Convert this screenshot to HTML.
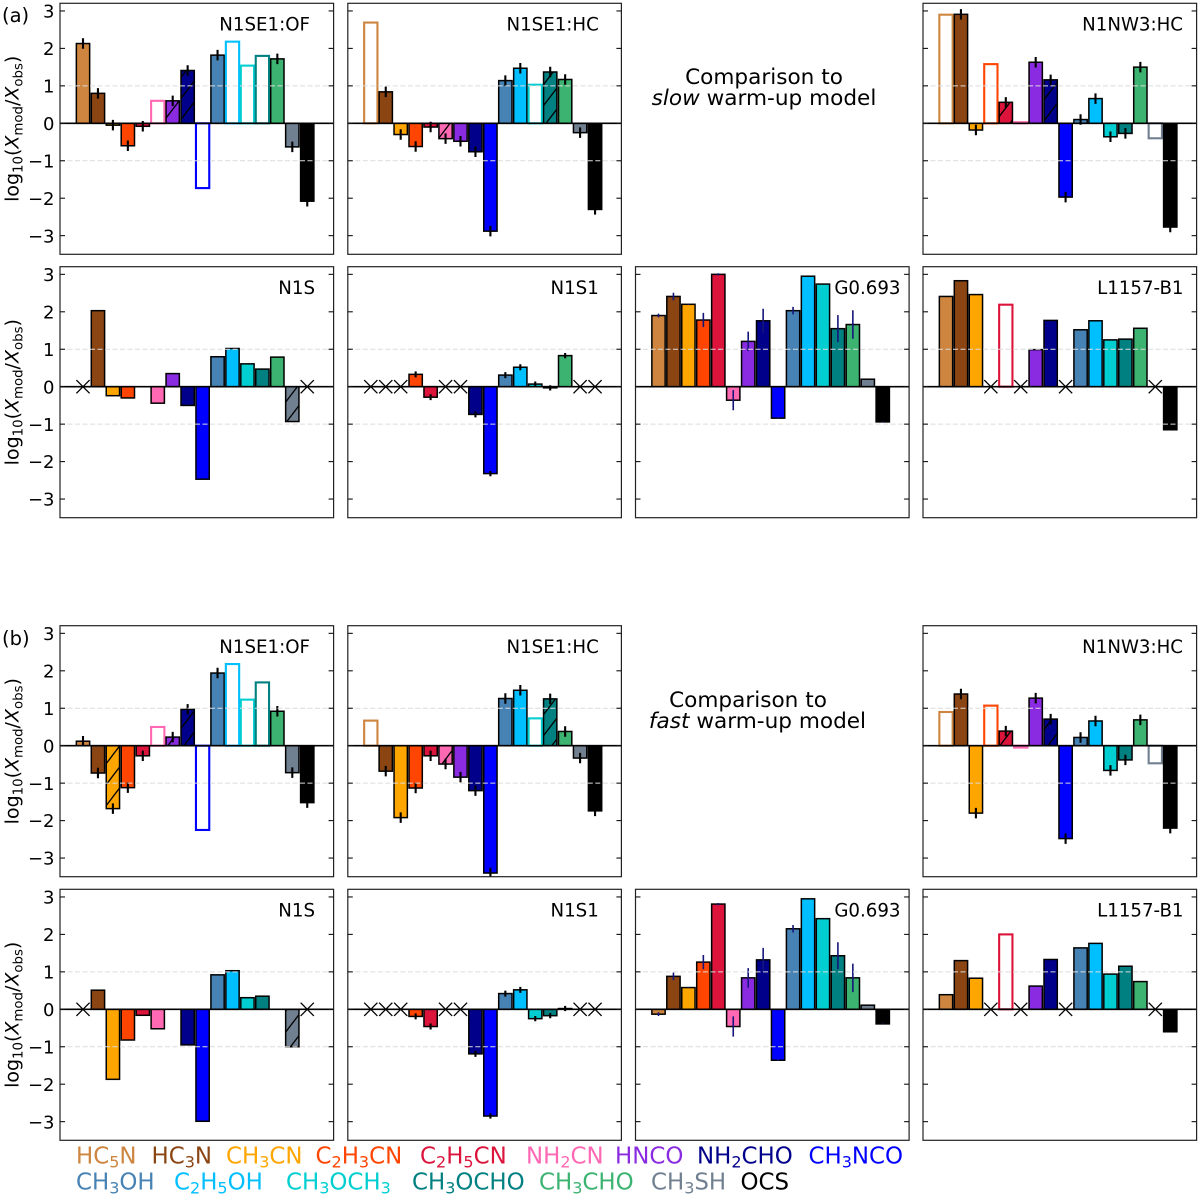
<!DOCTYPE html>
<html lang="en">
<head>
<meta charset="utf-8">
<title>Comparison to warm-up models</title>
<style>
  html, body { margin: 0; padding: 0; background: #fff; }
  body { width: 1200px; height: 1196px; overflow: hidden; }
  svg { display: block; font-family: "DejaVu Sans", "Liberation Sans", sans-serif; filter: blur(0.35px); }
  .tick { font-size: 18px; fill: #000; }
  .title { font-size: 18.2px; fill: #000; }
  .note { font-size: 21.6px; fill: #000; }
  .ylab { font-size: 19px; fill: #000; }
  .legend { font-size: 22.9px; }
</style>
</head>
<body>
<svg id="chart" xmlns="http://www.w3.org/2000/svg" width="1200" height="1196" viewBox="0 0 1200 1196">
  <defs>
    <pattern id="hatch" patternUnits="userSpaceOnUse" width="16" height="21">
      <path d="M-2 23.6 L18 -2.6 M-2 2.6 L2 -2.6 M14 23.6 L18 18.4" stroke="#000" stroke-width="1.3" fill="none"/>
    </pattern>
  </defs>
  <rect width="1200" height="1196" fill="#fff"/>

  <text x="2" y="22" font-size="19.5" fill="#000">(a)</text>
  <text x="2" y="645" font-size="19.5" fill="#000">(b)</text>

  <g class="note" text-anchor="middle">
    <text x="764" y="84">Comparison to</text>
    <text x="764" y="105"><tspan font-style="italic">slow</tspan> warm-up model</text>
  </g>
  <g class="note" text-anchor="middle">
    <text x="748" y="707">Comparison to</text>
    <text x="757.5" y="728"><tspan font-style="italic">fast</tspan> warm-up model</text>
  </g>

  <g id="panels"></g>

  <g class="legend">
    <text x="76" y="1163.3" fill="#CD853F">HC<tspan font-size="70%" dy="4">5</tspan><tspan dy="-4">N</tspan></text>
    <text x="151.5" y="1163.3" fill="#8B4513">HC<tspan font-size="70%" dy="4">3</tspan><tspan dy="-4">N</tspan></text>
    <text x="226" y="1163.3" fill="#FFA500">CH<tspan font-size="70%" dy="4">3</tspan><tspan dy="-4">CN</tspan></text>
    <text x="315.5" y="1163.3" fill="#FF4500">C<tspan font-size="70%" dy="4">2</tspan><tspan dy="-4">H</tspan><tspan font-size="70%" dy="4">3</tspan><tspan dy="-4">CN</tspan></text>
    <text x="420" y="1163.3" fill="#DC143C">C<tspan font-size="70%" dy="4">2</tspan><tspan dy="-4">H</tspan><tspan font-size="70%" dy="4">5</tspan><tspan dy="-4">CN</tspan></text>
    <text x="526" y="1163.3" fill="#FF69B4">NH<tspan font-size="70%" dy="4">2</tspan><tspan dy="-4">CN</tspan></text>
    <text x="615" y="1163.3" fill="#8A2BE2">HNCO</text>
    <text x="697" y="1163.3" fill="#00008B">NH<tspan font-size="70%" dy="4">2</tspan><tspan dy="-4">CHO</tspan></text>
    <text x="808.5" y="1163.3" fill="#0000FF">CH<tspan font-size="70%" dy="4">3</tspan><tspan dy="-4">NCO</tspan></text>
    <text x="76" y="1189.3" fill="#4682B4">CH<tspan font-size="70%" dy="4">3</tspan><tspan dy="-4">OH</tspan></text>
    <text x="174" y="1189.3" fill="#00BFFF">C<tspan font-size="70%" dy="4">2</tspan><tspan dy="-4">H</tspan><tspan font-size="70%" dy="4">5</tspan><tspan dy="-4">OH</tspan></text>
    <text x="286" y="1189.3" fill="#00CED1">CH<tspan font-size="70%" dy="4">3</tspan><tspan dy="-4">OCH</tspan><tspan font-size="70%" dy="4">3</tspan></text>
    <text x="412" y="1189.3" fill="#008080">CH<tspan font-size="70%" dy="4">3</tspan><tspan dy="-4">OCHO</tspan></text>
    <text x="539" y="1189.3" fill="#3CB371">CH<tspan font-size="70%" dy="4">3</tspan><tspan dy="-4">CHO</tspan></text>
    <text x="651" y="1189.3" fill="#708090">CH<tspan font-size="70%" dy="4">3</tspan><tspan dy="-4">SH</tspan></text>
    <text x="740.5" y="1189.3" fill="#000">OCS</text>
  </g>
</svg>

<script>
// ---- categories ----
const species = ['HC5N','HC3N','CH3CN','C2H3CN','C2H5CN','NH2CN','HNCO','NH2CHO','CH3NCO','CH3OH','C2H5OH','CH3OCH3','CH3OCHO','CH3CHO','CH3SH','OCS'];
const speciesColors = ['#CD853F','#8B4513','#FFA500','#FF4500','#DC143C','#FF69B4','#8A2BE2','#00008B','#0000FF','#4682B4','#00BFFF','#00CED1','#008080','#3CB371','#708090','#000000'];
const yTicks = [3,2,1,0,-1,-2,-3];
const yTickLabels = ['3','2','1','0','\u22121','\u22122','\u22123'];
const gridValues = [1,-1];

// ---- shared uncertainties (dex), null/0 = none drawn ----
const ofErrors  = [.14,.14,.14,.14,.14,0,.14,.14,0,.14,0,0,0,.14,.14,.14];
const hcErrors  = [0,.14,.14,.14,.14,.14,.14,.14,.14,.14,.14,0,.14,.14,.14,.14];
const nw3Errors = [0,.14,.14,0,.14,0,.14,.14,.14,.14,.14,.14,.14,.14,0,.14];
const s1Errors  = [0,0,0,.08,.08,0,0,.08,.07,.08,.08,.07,.07,.07,0,0];
const g0Errors  = [.05,.1,.01,.19,.03,.27,.26,.32,.02,.1,0,0,.36,.38,0,.01];
const noErrors  = [0,0,0,0,0,0,0,0,0,0,0,0,0,0,0,0];

// ---- (a) slow warm-up model: log10(Xmod/Xobs) ----
const slowOfValues  = [2.13,.8,-.05,-.6,-.08,.6,.6,1.41,-1.73,1.82,2.18,1.54,1.8,1.72,-.63,-2.08];
const slowHcValues  = [2.69,.84,-.3,-.62,-.1,-.41,-.48,-.76,-2.88,1.14,1.47,1.03,1.37,1.17,-.25,-2.3];
const slowNw3Values = [2.9,2.91,-.18,1.58,.56,.03,1.63,1.16,-1.97,.1,.66,-.36,-.27,1.5,-.4,-2.77];
const slowN1sValues = [null,2.03,-.24,-.3,null,-.44,.35,-.5,-2.47,.8,1.02,.61,.47,.79,-.93,null];
const slowS1Values  = [null,null,null,.33,-.28,null,null,-.74,-2.32,.31,.52,.07,-.03,.83,null,null];
const slowG0Values  = [1.9,2.41,2.2,1.78,3.0,-.36,1.21,1.76,-.84,2.03,2.95,2.74,1.55,1.66,.2,-.94];
const slowL1Values  = [2.41,2.83,2.46,null,2.19,null,.99,1.77,null,1.52,1.76,1.25,1.27,1.56,null,-1.15];

// ---- (b) fast warm-up model: log10(Xmod/Xobs) ----
const fastOfValues  = [.12,-.73,-1.68,-1.12,-.27,.5,.23,.97,-2.25,1.94,2.18,1.23,1.69,.92,-.72,-1.52];
const fastHcValues  = [.67,-.68,-1.92,-1.13,-.27,-.49,-.84,-1.2,-3.4,1.26,1.48,.73,1.25,.38,-.33,-1.74];
const fastNw3Values = [.9,1.38,-1.8,1.07,.39,-.05,1.27,.71,-2.48,.22,.66,-.66,-.38,.69,-.47,-2.2];
const fastN1sValues = [null,.51,-1.87,-.82,-.16,-.52,null,-.95,-2.99,.92,1.03,.31,.35,0,-1,null];
const fastS1Values  = [null,null,null,-.19,-.46,null,null,-1.19,-2.85,.42,.52,-.25,-.17,.02,null,null];
const fastG0Values  = [-.13,.88,.58,1.26,2.81,-.46,.84,1.32,-1.36,2.15,2.95,2.42,1.43,.84,.11,-.39];
const fastL1Values  = [.39,1.3,.83,null,2.0,null,.62,1.33,null,1.64,1.76,.94,1.15,.74,null,-.6];

// ---- bar-type flags (species indices) ----
const ofOpen = [5,8,10,11,12];
const hcOpen = [0,11];
const nw3Open = [0,3,5,14];
const l1Open = [4];
const slowOfHatched = [6,7];
const fastOfHatched = [2,6,7];
const hcHatched = [5,12];
const nw3Hatched = [4,7];
const n1sHatched = [14];
const noFlags = [];

// ---- non-detections drawn as crosses (species indices) ----
const n1sCrossed = [0,15];
const s1Crossed = [0,1,2,5,6,14,15];
const l1Crossed = [3,5,8,14];

// ---- panels ----
const panels = [
  {title:'N1SE1:OF', key:'slow-n1se1-of',  col:0,row:0, values:slowOfValues,  errors:ofErrors,  open:ofOpen,  hatched:slowOfHatched, crossed:noFlags},
  {title:'N1SE1:HC', key:'slow-n1se1-hc',  col:1,row:0, values:slowHcValues,  errors:hcErrors,  open:hcOpen,  hatched:hcHatched,     crossed:noFlags},
  {title:'N1NW3:HC', key:'slow-n1nw3-hc',  col:3,row:0, values:slowNw3Values, errors:nw3Errors, open:nw3Open, hatched:nw3Hatched,    crossed:noFlags},
  {title:'N1S',      key:'slow-n1s',       col:0,row:1, values:slowN1sValues, errors:noErrors,  open:noFlags, hatched:n1sHatched,    crossed:n1sCrossed},
  {title:'N1S1',     key:'slow-n1s1',      col:1,row:1, values:slowS1Values,  errors:s1Errors,  open:noFlags, hatched:noFlags,       crossed:s1Crossed},
  {title:'G0.693',   key:'slow-g0693',     col:2,row:1, values:slowG0Values,  errors:g0Errors,  open:noFlags, hatched:noFlags,       crossed:noFlags},
  {title:'L1157-B1', key:'slow-l1157-b1',  col:3,row:1, values:slowL1Values,  errors:noErrors,  open:l1Open,  hatched:noFlags,       crossed:l1Crossed},
  {title:'N1SE1:OF', key:'fast-n1se1-of',  col:0,row:2, values:fastOfValues,  errors:ofErrors,  open:ofOpen,  hatched:fastOfHatched, crossed:noFlags},
  {title:'N1SE1:HC', key:'fast-n1se1-hc',  col:1,row:2, values:fastHcValues,  errors:hcErrors,  open:hcOpen,  hatched:hcHatched,     crossed:noFlags},
  {title:'N1NW3:HC', key:'fast-n1nw3-hc',  col:3,row:2, values:fastNw3Values, errors:nw3Errors, open:nw3Open, hatched:nw3Hatched,    crossed:noFlags},
  {title:'N1S',      key:'fast-n1s',       col:0,row:3, values:fastN1sValues, errors:noErrors,  open:noFlags, hatched:n1sHatched,    crossed:n1sCrossed},
  {title:'N1S1',     key:'fast-n1s1',      col:1,row:3, values:fastS1Values,  errors:s1Errors,  open:noFlags, hatched:noFlags,       crossed:s1Crossed},
  {title:'G0.693',   key:'fast-g0693',     col:2,row:3, values:fastG0Values,  errors:g0Errors,  open:noFlags, hatched:noFlags,       crossed:noFlags},
  {title:'L1157-B1', key:'fast-l1157-b1',  col:3,row:3, values:fastL1Values,  errors:noErrors,  open:l1Open,  hatched:noFlags,       crossed:l1Crossed}
];

// ---- layout (not data) ----
const colLeft = [60, 347.8, 635.5, 923];
const rowTop = [3.3, 266.7, 625.7, 889.3];
const AXW = 273.6, AXH = 251, ZERO_OFFSET = 120, UNIT = 37.45, X_OFFSET = 23, STEP = 14.95;
const titleEnd = {'N1SE1:OF':250, 'N1SE1:HC':251, 'N1NW3:HC':260, 'N1S':255, 'N1S1':251, 'G0.693':265, 'L1157-B1':260.5};

const NS = 'http://www.w3.org/2000/svg';
function mk(tag, attrs, parent) {
  const el = document.createElementNS(NS, tag);
  for (const k in attrs) el.setAttribute(k, attrs[k]);
  parent.appendChild(el);
  return el;
}
function sub(parent, txt, dy, small) {
  const t = mk('tspan', {}, parent);
  if (dy) t.setAttribute('dy', dy);
  if (small) t.setAttribute('font-size', '70%');
  t.textContent = txt;
  return t;
}

const root = document.getElementById('panels');
panels.forEach(function (p, pi) {
  const left = colLeft[p.col], top = rowTop[p.row];
  const xScale = function (i) { return left + X_OFFSET + i * STEP; };
  const yScale = function (v) { return top + ZERO_OFFSET - v * UNIT; };
  const isG0 = p.title === 'G0.693';

  const g = mk('g', {}, root);
  
  

  const clip = mk('clipPath', {id: 'clip' + pi}, g);
  mk('rect', {x: left, y: top, width: AXW, height: AXH}, clip);

  const plot = mk('g', {'clip-path': 'url(#clip' + pi + ')'}, g);
  
  

  // bars
  p.values.forEach(function (v, i) {
    if (v === null) return;
    const isOpen = p.open.indexOf(i) >= 0;
    const isHatched = p.hatched.indexOf(i) >= 0;
    const y0 = yScale(0), y1 = yScale(v);
    const attrs = {
      x: xScale(i) - 6.65, y: Math.min(y0, y1), width: 13.3, height: Math.abs(y1 - y0),
      fill: isOpen ? '#fff' : speciesColors[i],
      stroke: isOpen ? speciesColors[i] : '#000',
      'stroke-width': isOpen ? 2.1 : 1.5
    };
    const bar = mk('rect', attrs, plot);
    
    
    if (isHatched) {
      const h = mk('rect', {x: attrs.x, y: attrs.y, width: attrs.width, height: attrs.height, fill: 'url(#hatch)'}, plot);
      
      
    }
  });

  // error bars
  p.values.forEach(function (v, i) {
    const e = p.errors[i];
    if (v === null || !e) return;
    const line = mk('line', {
      x1: xScale(i), x2: xScale(i), y1: yScale(v + e), y2: yScale(v - e),
      stroke: isG0 ? '#16167a' : '#000', 'stroke-width': isG0 ? 1.6 : 2.1
    }, plot);
    
    
  });

  // grid
  gridValues.forEach(function (gv) {
    const line = mk('line', {
      x1: left, x2: left + AXW, y1: yScale(gv), y2: yScale(gv),
      stroke: '#dcdcdc', 'stroke-width': 1, 'stroke-dasharray': '5 2.5'
    }, plot);
    
    
  });

  // zero line
  const zero = mk('line', {x1: left, x2: left + AXW, y1: yScale(0), y2: yScale(0), stroke: '#000', 'stroke-width': 1.6}, plot);
  
  

  // non-detection crosses
  p.crossed.forEach(function (i) {
    const cx = xScale(i), cy = yScale(0), r = 6.6;
    const cross = mk('path', {
      d: 'M' + (cx - r) + ' ' + (cy - r) + 'L' + (cx + r) + ' ' + (cy + r) + 'M' + (cx - r) + ' ' + (cy + r) + 'L' + (cx + r) + ' ' + (cy - r),
      stroke: '#000', 'stroke-width': 1.3, fill: 'none'
    }, plot);
    
    
  });

  // frame
  const frame = mk('rect', {x: left, y: top, width: AXW, height: AXH, fill: 'none', stroke: '#222', 'stroke-width': 1.2}, g);
  
  

  // ticks
  yTicks.forEach(function (t, ti) {
    const y = yScale(t);
    const tl = mk('line', {x1: left, x2: left + 5, y1: y, y2: y, stroke: '#111', 'stroke-width': 1.1}, g);
    
    
    const tr = mk('line', {x1: left + AXW - 5, x2: left + AXW, y1: y, y2: y, stroke: '#111', 'stroke-width': 1.1}, g);
    
    
    if (p.col === 0) {
      const lab = mk('text', {x: left - 5.5, y: y + 6.6, 'text-anchor': 'end', 'class': 'tick'}, g);
      
      
      lab.textContent = yTickLabels[ti];
    }
  });

  // y-axis title
  if (p.col === 0) {
    const cy = top + AXH / 2;
    const yl = mk('text', {'text-anchor': 'middle', 'class': 'ylab', transform: 'translate(18.5 ' + cy + ') rotate(-90)'}, g);
    
    
    sub(yl, 'log');
    sub(yl, '10', 4, true);
    sub(yl, '(', -4);
    sub(yl, 'X').setAttribute('font-style', 'italic');
    sub(yl, 'mod', 4, true);
    sub(yl, '/', -4);
    sub(yl, 'X').setAttribute('font-style', 'italic');
    sub(yl, 'obs', 4, true);
    sub(yl, ')', -4);
  }

  // panel title
  const title = mk('text', {x: left + titleEnd[p.title], y: top + 27.2, 'text-anchor': 'end', 'class': 'title'}, g);
  
  
  title.textContent = p.title;
});
</script>
</body>
</html>
